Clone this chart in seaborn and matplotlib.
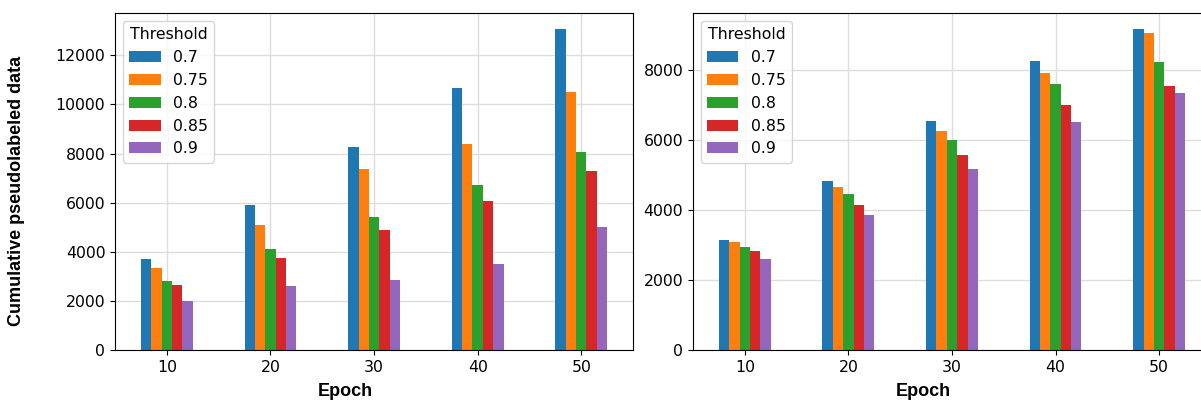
import pandas as pd
import matplotlib
matplotlib.use("Agg")
import matplotlib.pyplot as plt
import seaborn as sns

epochs = ["10", "20", "30", "40", "50"]
thresholds = ["0.7", "0.75", "0.8", "0.85", "0.9"]

# cumulative pseudolabeled counts, one list per threshold (epochs 10..50)
left_vals = {
    "0.7":  [3720, 5900, 8250, 10660, 13070],
    "0.75": [3350, 5100, 7360, 8400, 10490],
    "0.8":  [2800, 4100, 5400, 6720, 8050],
    "0.85": [2630, 3750, 4900, 6080, 7290],
    "0.9":  [2000, 2600, 2850, 3500, 5020],
}
right_vals = {
    "0.7":  [3160, 4830, 6550, 8270, 9180],
    "0.75": [3080, 4650, 6260, 7910, 9080],
    "0.8":  [2960, 4470, 6010, 7610, 8230],
    "0.85": [2840, 4160, 5570, 7020, 7560],
    "0.9":  [2600, 3860, 5180, 6510, 7360],
}


def to_long(vals):
    rows = []
    for t in thresholds:
        for e, v in zip(epochs, vals[t]):
            rows.append({"Epoch": e, "Threshold": t, "Count": v})
    return pd.DataFrame(rows)


fs = 11.3
plt.rcParams["font.size"] = fs
palette = sns.color_palette("tab10", 5)

fig = plt.figure(figsize=(12.01, 4.01), dpi=100)
ax1 = fig.add_axes([0.0958, 0.1272, 0.4313, 0.8404])
ax2 = fig.add_axes([0.5770, 0.1272, 0.4313, 0.8404])

label_font = dict(family="Liberation Sans", weight="bold", size=13)

for ax, vals in [(ax1, left_vals), (ax2, right_vals)]:
    df = to_long(vals)
    sns.barplot(data=df, x="Epoch", y="Count", hue="Threshold",
                order=epochs, hue_order=thresholds, palette=palette,
                width=0.5, saturation=1, errorbar=None, linewidth=0, ax=ax)
    ax.set_axisbelow(True)
    ax.grid(True, color="#dddddd", linewidth=1)
    ax.set_xlim(-0.5, 4.5)
    ax.tick_params(labelsize=fs)
    ax.set_xlabel("Epoch", fontdict=label_font)
    ax.xaxis.set_label_coords(0.444, -0.098)
    ax.set_ylabel("")
    ax.legend(title="Threshold", loc="upper left", fontsize=fs, title_fontsize=fs)

ax1.set_ylabel("Cumulative pseudolabeled data", fontdict=label_font)
ax1.yaxis.set_label_coords(-0.173, 0.473)

fig.savefig("out.png", dpi=100)
